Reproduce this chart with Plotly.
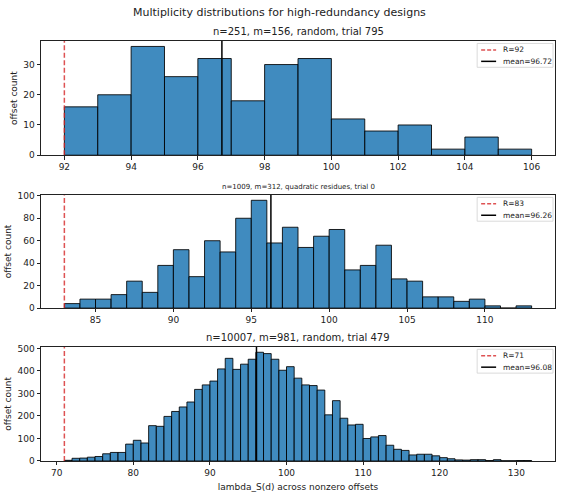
import plotly.graph_objects as go

# ---------------- data ----------------
suptitle = "Multiplicity distributions for high-redundancy designs"

titles = [
    "n=251, m=156, random, trial 795",
    "n=1009, m=312, quadratic residues, trial 0",
    "n=10007, m=981, random, trial 479",
]

# first bin edge for each panel (bins of width 1)
bin_start = [92, 83, 71]

counts1 = [16, 20, 36, 26, 32, 18, 30, 32, 12, 8, 10, 2, 6, 2]
counts2 = [4, 8, 8, 12, 24, 14, 38, 52, 28, 60, 50, 80, 96, 58, 72, 54, 64, 70,
           34, 38, 56, 26, 24, 10, 10, 6, 8, 2, 0, 2]
counts3 = [3, 12, 13, 17, 20, 32, 38, 38, 75, 92, 80, 157, 154, 198, 220, 240,
           262, 318, 338, 355, 409, 456, 407, 430, 452, 483, 477, 452, 403, 419,
           368, 338, 335, 315, 205, 268, 190, 160, 163, 100, 107, 113, 70, 52,
           47, 27, 30, 30, 23, 15, 10, 5, 4, 6, 6, 2, 6, 1, 1, 2, 2]
counts = [counts1, counts2, counts3]

R_values = [92, 83, 71]
means = [96.72, 96.26, 96.08]

xdtick = [2, 5, 10]
ydtick = [10, 20, 100]

ylabel = "offset count"
xlabel = "lambda_S(d) across nonzero offsets"

# ---------------- layout geometry ----------------
W, H = 563, 498
ML, MR, MT, MB = 41, 7, 41, 34
ph = H - MT - MB
pw = W - ML - MR
axes_top_px = [41, 196, 349]
axes_bot_px = [156, 310, 464]


def py(px):
    return (H - MB - px) / ph


def pxx(px):
    return (px - ML) / pw


domains = [(py(b), py(t)) for t, b in zip(axes_top_px, axes_bot_px)]

FONT = "DejaVu Sans"
BAR_FILL = "rgba(31,119,180,0.85)"
BAR_EDGE = "rgba(0,0,0,0.85)"
RED = "rgba(214,39,40,0.8)"
RED_DASH = "5px,2.5px"

fig = go.Figure()
layout = dict(
    width=W, height=H,
    margin=dict(l=ML, r=MR, t=MT, b=MB),
    paper_bgcolor="white", plot_bgcolor="white",
    font=dict(family=FONT, size=9, color="#000"),
    showlegend=False,
    annotations=[],
    shapes=[],
)

for i in range(3):
    c = counts[i]
    lo = bin_start[i]
    edges = [lo + k for k in range(len(c))]
    hi = lo + len(c)
    ymax = 1.05 * max(c)
    pad = 0.05 * (hi - lo)
    xa = "x" if i == 0 else f"x{i+1}"
    ya = "y" if i == 0 else f"y{i+1}"
    rname = f"R={R_values[i]}"
    mname = f"mean={means[i]:.2f}"

    fig.add_trace(go.Bar(
        x=edges, y=c, offset=0, width=1,
        marker=dict(color=BAR_FILL, line=dict(color=BAR_EDGE, width=1)),
        xaxis=xa, yaxis=ya, hoverinfo="x+y",
    ))
    fig.add_trace(go.Scatter(
        x=[R_values[i], R_values[i]], y=[0, ymax], mode="lines",
        line=dict(color=RED, width=1.5, dash=RED_DASH),
        name=rname, xaxis=xa, yaxis=ya,
    ))
    fig.add_trace(go.Scatter(
        x=[means[i], means[i]], y=[0, ymax], mode="lines",
        line=dict(color="black", width=1.5),
        name=mname, xaxis=xa, yaxis=ya,
    ))

    axkey = "xaxis" if i == 0 else f"xaxis{i+1}"
    aykey = "yaxis" if i == 0 else f"yaxis{i+1}"
    common = dict(showline=True, linecolor="#222", linewidth=0.8, mirror=True,
                  ticks="outside", ticklen=3.5, tickwidth=0.8, tickcolor="#222",
                  showgrid=False, zeroline=False,
                  tickfont=dict(family=FONT, size=9, color="#222"))
    layout[axkey] = dict(common, domain=[0, 1], anchor=ya,
                         range=[lo - pad, hi + pad], dtick=xdtick[i], tick0=0)
    layout[aykey] = dict(common, domain=list(domains[i]), anchor=xa,
                         range=[0, ymax], dtick=ydtick[i], tick0=0,
                         title=dict(text=ylabel, standoff=4,
                                    font=dict(family=FONT, size=9, color="#222")))
    if i == 2:
        layout[axkey]["title"] = dict(text=xlabel, standoff=6,
                                      font=dict(family=FONT, size=9, color="#222"))

    # ---- compact legend box (matplotlib style) ----
    top = axes_top_px[i] + 2.5
    box_l, box_r = 478, 554
    box_b = top + 24
    layout["shapes"].append(dict(
        type="rect", xref="paper", yref="paper",
        x0=pxx(box_l), x1=pxx(box_r), y0=py(box_b), y1=py(top),
        line=dict(color="#d0d0d0", width=0.8), fillcolor="rgba(255,255,255,0.8)",
        layer="above",
    ))
    for j, (name, col, dash) in enumerate([(rname, RED, "4px,2px"),
                                           (mname, "black", "solid")]):
        yrow = top + 6.5 + j * 11.5
        layout["shapes"].append(dict(
            type="line", xref="paper", yref="paper",
            x0=pxx(482), x1=pxx(497), y0=py(yrow), y1=py(yrow),
            line=dict(color=col, width=1.5, dash=dash), layer="above",
        ))
        layout["annotations"].append(dict(
            text=name, x=pxx(502), y=py(yrow), xref="paper", yref="paper",
            xanchor="left", yanchor="middle", showarrow=False,
            font=dict(family=FONT, size=7.5, color="#222"),
        ))

    tsize = 7 if i == 1 else 10
    layout["annotations"].append(dict(
        text=titles[i], x=0.5, y=domains[i][1], xref="paper", yref="paper",
        xanchor="center", yanchor="bottom", yshift=2, showarrow=False,
        font=dict(family=FONT, size=tsize, color="#222"),
    ))

layout["annotations"].append(dict(
    text=suptitle, x=pxx(280), y=py(12), xref="paper", yref="paper",
    xanchor="center", yanchor="middle", showarrow=False,
    font=dict(family=FONT, size=11, color="#222"),
))

fig.update_layout(layout)
fig.write_html("out.html")
